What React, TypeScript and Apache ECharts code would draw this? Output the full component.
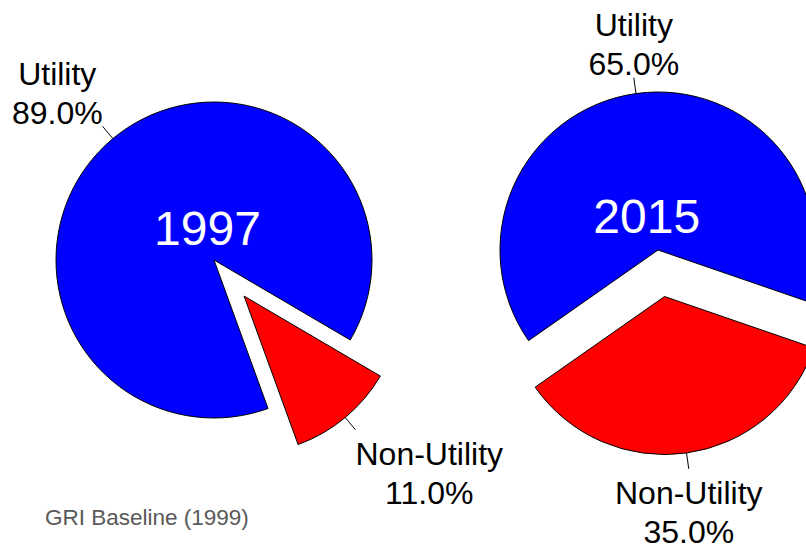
import React, { useEffect, useRef } from 'react';
import * as echarts from 'echarts';

// ---- data ----
const categories = ['Utility', 'Non-Utility'];
const years = ['1997', '2015'];
const values1997 = [89.0, 11.0];
const values2015 = [65.0, 35.0];
const sliceColors = ['#0000FF', '#FF0000'];
const sourceNote = 'GRI Baseline (1999)';

const FONT = '"Liberation Sans", Arial, Helvetica, sans-serif';

function labelLayout(params: any) {
  const pts = params.labelLinePoints;
  if (!pts || pts.length < 2) return {};
  const p0 = pts[0];
  const p1 = pts[1];
  const dx = p1[0] - p0[0];
  const dy = p1[1] - p0[1];
  const len = Math.hypot(dx, dy) || 1;
  const ux = dx / len;
  const uy = dy / len;
  const w = params.labelRect.width;
  let x = p1[0];
  if (ux < -0.4) x = p1[0] - w / 2;
  else if (ux > 0.4) x = p1[0] + w / 2;
  const up = uy < 0;
  return {
    x,
    y: up ? p1[1] + 6 : p1[1] + 4.4,
    align: 'center',
    verticalAlign: up ? 'bottom' : 'top',
    labelLinePoints: [p0, p1],
  };
}

function makePie(
  values: number[],
  center: number[],
  startAngle: number,
  explodeIndex: number,
  offset: number
) {
  const total = values.reduce((a, b) => a + b, 0);
  // angle (math degrees) at the middle of the exploded slice, going clockwise
  let acc = startAngle;
  let mid = startAngle;
  values.forEach((v, i) => {
    const sweep = (v / total) * 360;
    if (i === explodeIndex) mid = acc - sweep / 2;
    acc -= sweep;
  });
  const rad = (mid * Math.PI) / 180;
  const shifted = [center[0] + Math.cos(rad) * offset, center[1] - Math.sin(rad) * offset];

  const common = {
    type: 'pie',
    radius: 158,
    startAngle,
    clockwise: true,
    avoidLabelOverlap: false,
    silent: true,
    emphasis: { disabled: true },
    label: {
      show: true,
      position: 'outside',
      fontFamily: FONT,
      fontSize: 32,
      lineHeight: 39,
      color: '#000',
      formatter: (p: any) => `${p.name}\n${((p.value / total) * 100).toFixed(1)}%`,
    },
    labelLine: {
      show: true,
      length: 16,
      length2: 0,
      smooth: false,
      lineStyle: { color: '#000', width: 1 },
    },
    labelLayout,
  };

  const buildData = (visibleFn: (i: number) => boolean) =>
    categories.map((name, i) => {
      const visible = visibleFn(i);
      return {
        name,
        value: values[i],
        itemStyle: visible
          ? { color: sliceColors[i], borderColor: '#000', borderWidth: 1 }
          : { color: 'rgba(0,0,0,0)', borderWidth: 0 },
        label: { show: visible },
        labelLine: { show: visible },
      };
    });

  return [
    { ...common, center, data: buildData((i) => i !== explodeIndex) },
    { ...common, center: shifted, data: buildData((i) => i === explodeIndex) },
  ];
}

export default function App() {
  const ref = useRef<HTMLDivElement>(null);

  useEffect(() => {
    if (!ref.current) return;
    const chart = echarts.init(ref.current, null, { renderer: 'svg' });
    const option = {
      animation: false,
      backgroundColor: '#ffffff',
      series: [
        ...makePie(values1997, [214, 260], 290, 1, 47),
        ...makePie(values2015, [658, 250], 215, 1, 47),
      ],
      graphic: [
        {
          type: 'text',
          x: 207.5,
          y: 228.4,
          silent: true,
          style: {
            text: years[0],
            fill: '#ffffff',
            font: `48px ${FONT}`,
            textAlign: 'center',
            textVerticalAlign: 'middle',
          },
          z: 100,
        },
        {
          type: 'text',
          x: 646.7,
          y: 216.7,
          silent: true,
          style: {
            text: years[1],
            fill: '#ffffff',
            font: `48px ${FONT}`,
            textAlign: 'center',
            textVerticalAlign: 'middle',
          },
          z: 100,
        },
        {
          type: 'text',
          x: 45,
          y: 517.5,
          silent: true,
          style: {
            text: sourceNote,
            fill: '#595959',
            font: `22.5px ${FONT}`,
            textAlign: 'left',
            textVerticalAlign: 'middle',
          },
          z: 100,
        },
      ],
    };
    chart.setOption(option as any);
    return () => chart.dispose();
  }, []);

  return (
    <div
      ref={ref}
      style={{ position: 'fixed', left: 0, top: 0, width: 806, height: 546, background: '#fff' }}
    />
  );
}
